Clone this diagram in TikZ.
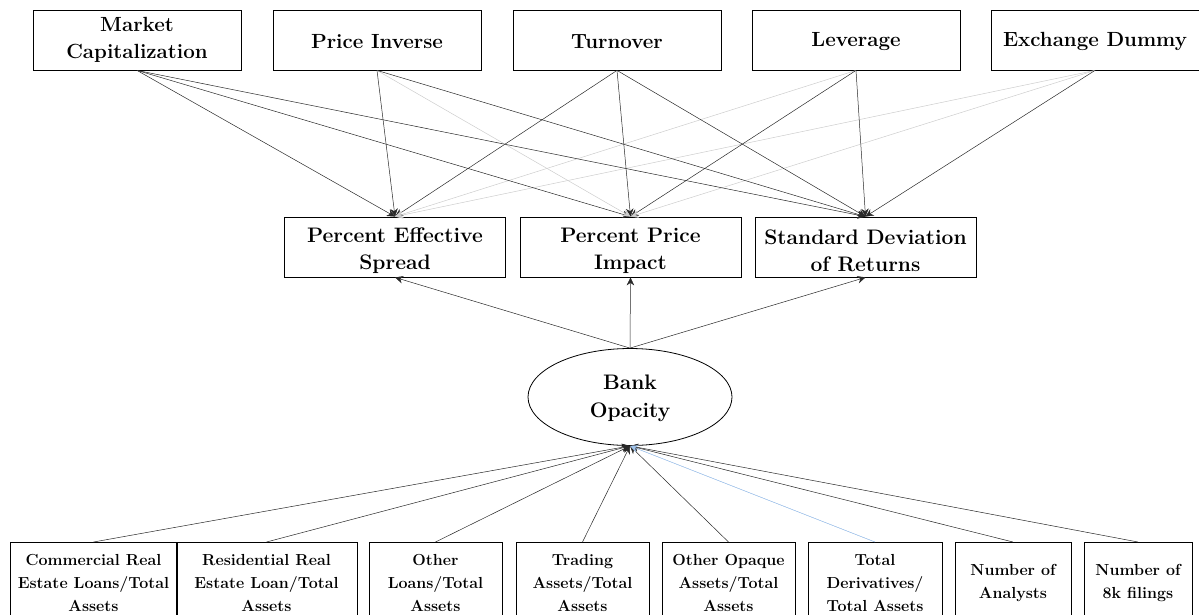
\documentclass[tikz,border=0pt]{standalone}
\usetikzlibrary{arrows.meta,shapes.geometric}
\definecolor{lightln}{RGB}{205,205,205}
\definecolor{bluehead}{RGB}{70,130,200}
\definecolor{blueln}{RGB}{160,195,235}
\definecolor{lnc}{RGB}{40,40,40}
\begin{document}
\begin{tikzpicture}[x=1pt,y=-1pt,
  box/.style={draw,line width=0.8pt,inner sep=0pt,align=center},
  topbox/.style={box,minimum width=208pt,minimum height=60pt,font=\fontsize{20.5}{27}\selectfont\bfseries},
  midbox/.style={box,minimum width=221pt,minimum height=60pt,font=\fontsize{21}{27}\selectfont\bfseries},
  botbox/.style={box,anchor=north,minimum height=82pt,font=\fontsize{16}{23}\selectfont\bfseries},
  oval/.style={draw,line width=0.8pt,ellipse,minimum width=204pt,minimum height=97pt,inner sep=0pt,align=center,font=\fontsize{21}{28}\selectfont\bfseries},
  con/.style={line width=0.5pt,draw=lnc,-{Stealth[length=8pt,width=7.5pt]}},
  faint/.style={con,draw=lightln},
]
\useasboundingbox (0,0) rectangle (1199,614);
% top row
\node[topbox] (mc) at (137,40) {Market\\Capitalization};
\node[topbox] (pi) at (377,40) {\rule{0pt}{17pt}Price Inverse};
\node[topbox] (to) at (617,40) {\rule{0pt}{17pt}Turnover};
\node[topbox] (le) at (856,40) {\rule{0pt}{17pt}Leverage};
\node[topbox] (ex) at (1095,40) {\rule{0pt}{17pt}Exchange Dummy};
% middle row
\node[midbox] (es) at (395,247) {\rule{0pt}{23pt}Percent Effective\\Spread};
\node[midbox] (pp) at (630.5,247) {\rule{0pt}{23pt}Percent Price\\Impact};
\node[midbox] (sd) at (865.5,247) {\rule{0pt}{23pt}Standard Deviation\\of Returns};
% latent
\node[oval] (bo) at (630,397) {\rule{0pt}{18pt}Bank\\Opacity};
% bottom row
\node[botbox,minimum width=167pt] (b1) at (93.5,542) {Commercial Real\\Estate Loans/Total\\Assets};
\node[botbox,minimum width=181pt] (b2) at (266.5,542) {Residential Real\\Estate Loan/Total\\Assets};
\node[botbox,minimum width=133pt] (b3) at (435.5,542) {Other\\Loans/Total\\Assets};
\node[botbox,minimum width=133pt] (b4) at (582.5,542) {Trading\\Assets/Total\\Assets};
\node[botbox,minimum width=133pt] (b5) at (728.5,542) {Other Opaque\\Assets/Total\\Assets};
\node[botbox,minimum width=134pt] (b6) at (875,542) {Total\\Derivatives/\\Total Assets};
\node[botbox,minimum width=116pt] (b7) at (1013,542) {Number of\\Analysts};
\node[botbox,minimum width=108pt] (b8) at (1138,542) {Number of\\8k filings};
% top to middle
\foreach \s in {mc,pi,to}{\draw[con] (\s.south) -- (es.north);}
\foreach \s in {le,ex}{\draw[faint] (\s.south) -- (es.north);}
\foreach \s in {mc,to,le}{\draw[con] (\s.south) -- (pp.north);}
\foreach \s in {pi,ex}{\draw[faint] (\s.south) -- (pp.north);}
\foreach \s in {mc,pi,to,le,ex}{\draw[con] (\s.south) -- (sd.north);}
% latent to middle
\foreach \t in {es,pp,sd}{\draw[con] (bo.north) -- (\t.south);}
% bottom to latent
\foreach \s in {b1,b2,b3,b4,b5,b7,b8}{\draw[con] (\s.north) -- (bo.south);}
\draw[con,draw=blueln,fill=bluehead] (b6.north) -- (bo.south);
\end{tikzpicture}
\end{document}
